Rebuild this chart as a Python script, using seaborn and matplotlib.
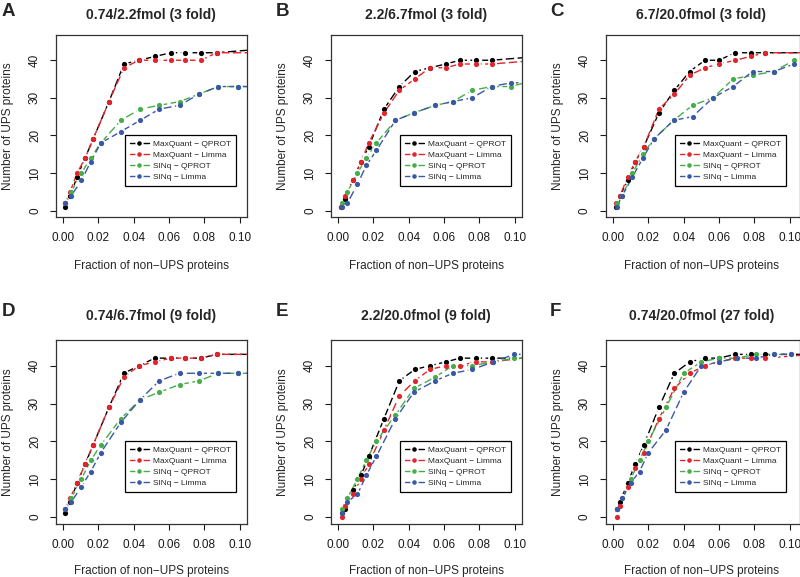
import matplotlib
matplotlib.use("Agg")
import matplotlib.pyplot as plt
import pandas as pd
import seaborn as sns
from matplotlib.lines import Line2D
from matplotlib.ticker import FormatStrFormatter

# ---------------- data ----------------
series_names = ["MaxQuant \u2212 QPROT", "MaxQuant \u2212 Limma", "SINq \u2212 QPROT", "SINq \u2212 Limma"]
series_colors = ["#000000", "#E3242B", "#45AE48", "#3A58A6"]

panel_letters = ["A", "B", "C", "D", "E", "F"]
panel_titles = ["0.74/2.2fmol (3 fold)", "2.2/6.7fmol (3 fold)", "6.7/20.0fmol (3 fold)",
                "0.74/6.7fmol (9 fold)", "2.2/20.0fmol (9 fold)", "0.74/20.0fmol (27 fold)"]

# Panel A
a_mq_x = [0.0013, 0.004, 0.008, 0.0125, 0.017, 0.026, 0.0345, 0.043, 0.052, 0.061, 0.069, 0.078, 0.087, 0.113]
a_mq_qprot = [1, 4, 9, 14, 19, 29, 39, 40, 41, 42, 42, 42, 42, 43]
a_mq_limma = [2, 5, 10, 14, 19, 29, 38, 40, 40, 40, 40, 40, 42, 42]
a_sinq_x = [0.0013, 0.0047, 0.0104, 0.0157, 0.0214, 0.0327, 0.0436, 0.0545, 0.066, 0.077, 0.088, 0.099, 0.113]
a_sinq_qprot = [2, 5, 10, 14, 18, 24, 27, 28, 29, 31, 33, 33, 33]
a_sinq_limma = [2, 4, 8, 13, 18, 21, 24, 27, 28, 31, 33, 33, 33]

# Panel B
b_mq_x = [0.0019, 0.004, 0.0083, 0.013, 0.0174, 0.026, 0.0347, 0.0434, 0.052, 0.061, 0.069, 0.078, 0.087, 0.113]
b_mq_qprot = [1, 3, 8, 13, 17, 27, 33, 37, 38, 39, 40, 40, 40, 41]
b_mq_limma = [1, 4, 8, 13, 18, 26, 32, 35, 38, 38, 39, 39, 39, 40]
b_sinq_x = [0.002, 0.0053, 0.011, 0.016, 0.0217, 0.0325, 0.043, 0.055, 0.065, 0.076, 0.087, 0.098, 0.113]
b_sinq_qprot = [2, 5, 10, 14, 18, 24, 26, 28, 29, 32, 33, 33, 35]
b_sinq_limma = [1, 2, 7, 12, 16, 24, 26, 28, 29, 30, 33, 34, 34]

# Panel C
c_mq_x = [0.0019, 0.004, 0.0083, 0.0126, 0.0174, 0.026, 0.0347, 0.0434, 0.052, 0.060, 0.069, 0.078, 0.086, 0.113]
c_mq_qprot = [1, 4, 8, 13, 17, 26, 32, 37, 40, 40, 42, 42, 42, 42]
c_mq_limma = [2, 4, 9, 13, 17, 27, 31, 36, 38, 39, 40, 41, 42, 42]
c_sinq_x = [0.002, 0.0053, 0.011, 0.017, 0.023, 0.0343, 0.045, 0.0566, 0.068, 0.079, 0.091, 0.1026]
c_sinq_qprot = [2, 4, 10, 15, 19, 24, 28, 30, 35, 36, 37, 40]
c_sinq_limma = [1, 4, 9, 14, 19, 24, 25, 30, 33, 37, 37, 39]

# Panel D
d_mq_x = [0.0013, 0.004, 0.008, 0.0125, 0.017, 0.026, 0.0345, 0.043, 0.052, 0.061, 0.069, 0.078, 0.087, 0.113]
d_mq_qprot = [1, 4, 9, 14, 19, 29, 38, 40, 42, 42, 42, 42, 43, 43]
d_mq_limma = [2, 5, 9, 14, 19, 29, 37, 40, 41, 42, 42, 42, 43, 43]
d_sinq_x = [0.0013, 0.0047, 0.0104, 0.0157, 0.0214, 0.0327, 0.0436, 0.0545, 0.066, 0.077, 0.088, 0.099, 0.113]
d_sinq_qprot = [2, 5, 10, 15, 19, 26, 31, 33, 35, 36, 38, 38, 38]
d_sinq_limma = [2, 4, 8, 12, 17, 25, 31, 36, 38, 38, 38, 38, 38]

# Panel E
e_mq_x = [0.002, 0.004, 0.0083, 0.013, 0.0174, 0.026, 0.0347, 0.0434, 0.052, 0.061, 0.069, 0.078, 0.087, 0.113]
e_mq_qprot = [1, 2, 7, 11, 16, 26, 36, 39, 40, 41, 42, 42, 42, 42]
e_mq_limma = [0, 3, 6, 10, 14, 23, 32, 36, 39, 40, 40, 41, 41, 42.5]
e_sinq_x = [0.002, 0.0053, 0.011, 0.016, 0.0217, 0.0325, 0.043, 0.055, 0.065, 0.076, 0.088, 0.0997, 0.113]
e_sinq_qprot = [2, 5, 10, 15, 20, 27, 34, 37, 40, 40, 41, 42, 42]
e_sinq_limma = [1, 4, 6, 11, 16, 26, 33, 36, 38, 39, 41, 43, 43]

# Panel F
f_mq_x = [0.002, 0.004, 0.0083, 0.0126, 0.0174, 0.026, 0.0347, 0.0434, 0.052, 0.060, 0.069, 0.078, 0.086, 0.113]
f_mq_qprot = [2, 4, 9, 14, 19, 29, 38, 41, 42, 42, 43, 43, 43, 43]
f_mq_limma = [0, 3, 8, 13, 17, 26, 34, 38, 40, 41, 42, 42, 42, 43]
f_sinq_x = [0.002, 0.0053, 0.010, 0.015, 0.020, 0.030, 0.040, 0.050, 0.060, 0.070, 0.081, 0.091, 0.101]
f_sinq_qprot = [2, 5, 10, 15, 20, 29, 38, 41, 42, 42, 43, 43, 43]
f_sinq_limma = [2, 5, 9, 12, 17, 23, 33, 40, 41, 42, 42, 43, 43]

x_ticks = [0.00, 0.02, 0.04, 0.06, 0.08, 0.10]
y_ticks = [0, 10, 20, 30, 40]
x_label = "Fraction of non\u2212UPS proteins"
y_label = "Number of UPS proteins"

panels = [
    (a_mq_x, a_mq_qprot, a_mq_limma, a_sinq_x, a_sinq_qprot, a_sinq_limma),
    (b_mq_x, b_mq_qprot, b_mq_limma, b_sinq_x, b_sinq_qprot, b_sinq_limma),
    (c_mq_x, c_mq_qprot, c_mq_limma, c_sinq_x, c_sinq_qprot, c_sinq_limma),
    (d_mq_x, d_mq_qprot, d_mq_limma, d_sinq_x, d_sinq_qprot, d_sinq_limma),
    (e_mq_x, e_mq_qprot, e_mq_limma, e_sinq_x, e_sinq_qprot, e_sinq_limma),
    (f_mq_x, f_mq_qprot, f_mq_limma, f_sinq_x, f_sinq_qprot, f_sinq_limma),
]

# ---------------- styling ----------------
sns.set_theme(style="white")
plt.rcParams["font.family"] = ["Liberation Sans", "DejaVu Sans"]

W, H = 800, 577
fig = plt.figure(figsize=(W / 100, H / 100), dpi=100)

col_left = [56, 331, 606]
row_top = [34.7, 340.0]
row_h = [182.6, 183.7]
ax_w = 190.7
px_per_unit = ax_w / 0.108


def place_axes(r, c):
    left = col_left[c]
    w = ax_w if c < 2 else 194.0
    top = row_top[r]
    h = row_h[r]
    return fig.add_axes([left / W, 1 - (top + h) / H, w / W, h / H]), left, w, top, h


for idx, p in enumerate(panels):
    r, c = divmod(idx, 3)
    ax, left, w, top, h = place_axes(r, c)
    mq_x, mq_q, mq_l, s_x, s_q, s_l = p
    xs = [mq_x, mq_x, s_x, s_x]
    ys = [mq_q, mq_l, s_q, s_l]
    for i in range(4):
        df = pd.DataFrame({"x": xs[i], "y": ys[i]})
        sns.lineplot(data=df, x="x", y="y", ax=ax, color=series_colors[i], sort=False,
                     estimator=None, linewidth=1.0, linestyle=(0, (6, 2.5)), zorder=2 + i)
        sns.scatterplot(data=df, x="x", y="y", ax=ax, color="white", s=40, linewidth=0,
                        zorder=2.5 + i, legend=False)
    for i in range(4):
        df = pd.DataFrame({"x": xs[i], "y": ys[i]})
        sns.scatterplot(data=df, x="x", y="y", ax=ax, color=series_colors[i], s=14,
                        linewidth=0, zorder=10 + i, legend=False)

    ax.set_xlim(-0.004, -0.004 + w / px_per_unit)
    ax.set_ylim(-1.8, 46.8)
    ax.set_xticks(x_ticks)
    ax.xaxis.set_major_formatter(FormatStrFormatter("%.2f"))
    ax.set_yticks(y_ticks)
    ax.set_yticklabels([str(v) for v in y_ticks], rotation=90, va="center")
    ax.set_xlabel("")
    ax.set_ylabel("")
    ax.tick_params(axis="both", direction="out", length=4.3, width=0.8, pad=6.5,
                   labelsize=8.5, colors="#1a1a1a", bottom=True, left=True)
    for sp in ax.spines.values():
        sp.set_visible(True)
        sp.set_color("#333333")
        sp.set_linewidth(0.9)

    handles = [Line2D([], [], color=series_colors[i], linewidth=1.0, marker="o", markersize=4.6,
                      markerfacecolor=series_colors[i], markeredgecolor="white", markeredgewidth=1.3)
               for i in range(4)]
    leg = ax.legend(handles, series_names, loc="upper left", bbox_to_anchor=(0.035, 20),
                    bbox_transform=ax.transData, borderaxespad=0, frameon=True, fancybox=False,
                    edgecolor="black", framealpha=1, fontsize=6.0, handlelength=2.3,
                    handletextpad=0.5, borderpad=0.6, labelspacing=0.36)
    leg.get_frame().set_linewidth(0.9)
    leg.set_zorder(20)

    cx = left + ax_w / 2
    fig.text(cx / W, 1 - (15 if r == 0 else 316) / H, panel_titles[idx], ha="center", va="center",
             fontsize=10, fontweight="bold")
    letter_x = [2, 276, 550][c]
    fig.text(letter_x / W, 1 - (12 if r == 0 else 312) / H, panel_letters[idx], ha="left",
             va="center", fontsize=13.5, fontweight="bold")
    fig.text(cx / W, 1 - (266 if r == 0 else 571) / H, x_label, ha="center", va="center",
             fontsize=8.5)
    fig.text((left - 48) / W, 1 - (top + h / 2) / H, y_label, ha="center", va="center",
             rotation=90, fontsize=8.5)

fig.savefig("out.png", dpi=100, facecolor="white")
